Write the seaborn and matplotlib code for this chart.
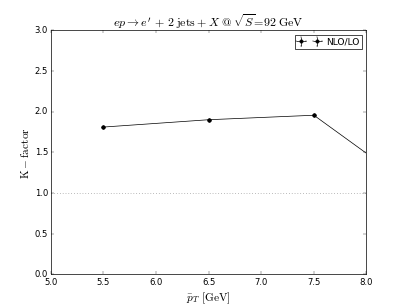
import matplotlib
matplotlib.use("Agg")
import matplotlib.pyplot as plt
import seaborn as sns
import numpy as np
import pandas as pd

pt = [5.5, 6.5, 7.5, 8.5]
kfactor = [1.81, 1.90, 1.955, 1.02]
kerr = [0.0, 0.0, 0.0, 0.0]
pterr = [0.0, 0.0, 0.0, 0.0]

plt.style.use('classic')
plt.rcParams['mathtext.fontset'] = 'cm'
plt.rcParams['legend.numpoints'] = 2

fig, ax = plt.subplots(figsize=(8, 6), dpi=50.9)
fig.subplots_adjust(left=0.125, right=0.9, bottom=0.1, top=0.9)
fig.patch.set_facecolor('white')

df = pd.DataFrame({'pt': pt, 'k': kfactor})
sns.lineplot(data=df, x='pt', y='k', ax=ax, color='black', lw=1,
             marker='o', markersize=5, markeredgecolor='black', legend=False)
ax.errorbar(pt, kfactor, yerr=kerr, xerr=pterr, fmt='o', color='black', ms=5,
            capsize=2, lw=1, label='NLO/LO')
ax.axhline(1.0, color='gray', ls=':', lw=1)

ax.set_xlim(5.0, 8.0)
ax.set_ylim(0.0, 3.0)
ax.set_xticks([5.0, 5.5, 6.0, 6.5, 7.0, 7.5, 8.0])
ax.set_yticks([0.0, 0.5, 1.0, 1.5, 2.0, 2.5, 3.0])
ax.set_xlabel(r'$\bar{p}_T\ [\mathrm{GeV}]$', fontsize=16)
ax.set_ylabel(r'$\mathrm{K-factor}$', fontsize=16)
ax.set_title(r'$ep\rightarrow e^{\prime}\,+\,2\;\mathrm{jets}+X\;@\;\sqrt{S}\!=\!92\;\mathrm{GeV}$', fontsize=17)
ax.tick_params(labelsize=12)
leg = ax.legend(loc='upper right', fontsize=13, handlelength=2.4, borderpad=0.3,
                handletextpad=0.6)

fig.savefig('out.png', dpi=50.9, facecolor='white')
